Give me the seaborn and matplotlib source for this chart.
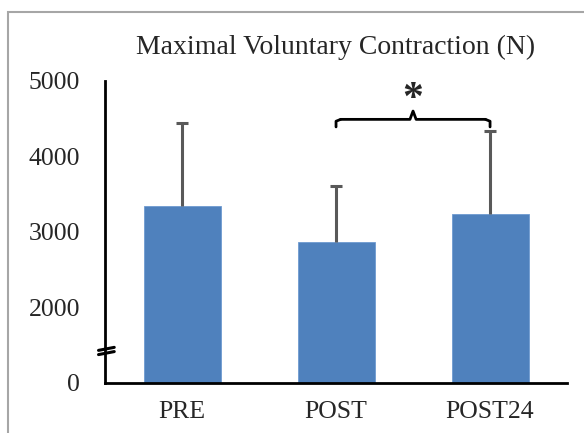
import numpy as np
import pandas as pd
import matplotlib
matplotlib.use('Agg')
import matplotlib.pyplot as plt
import seaborn as sns
from matplotlib.patches import Rectangle

# data (N)
phases = ['PRE', 'POST', 'POST24']
mvc_mean = [3344, 2860, 3234]
mvc_sd = [1092, 741, 1104]
ytick_labels = ['0', '2000', '3000', '4000', '5000']
ytick_values = [1000, 2000, 3000, 4000, 5000]
break_offset = 1000  # axis is broken between 0 and 2000
sig_pair = (1, 2)  # POST vs POST24

sns.set_style('white')
plt.rcParams['font.family'] = ['Liberation Serif', 'DejaVu Serif']

df = pd.DataFrame({'phase': phases,
                   'mvc': np.array(mvc_mean) - break_offset,
                   'sd': mvc_sd})

fig = plt.figure(figsize=(5.84, 4.33), dpi=100)
ax = fig.add_axes([0.1798, 0.1162, 0.7912, 0.6974])

sns.barplot(data=df, x='phase', y='mvc', color='#4F81BD', width=0.5,
            saturation=1, edgecolor='#6F9AD0', linewidth=0.6, ax=ax)
eb = ax.errorbar(range(len(phases)), df['mvc'],
                 yerr=[np.zeros(len(phases)), df['sd']],
                 fmt='none', ecolor='#595959', elinewidth=2.2, capsize=4, capthick=2.2,
                 zorder=3)
eb[1][0].set_visible(False)  # only the upper caps

ax.set_ylim(0, 4000)
ax.set_xlim(-0.5, 2.5)
ax.set_yticks(np.array(ytick_values) - break_offset)
ax.set_yticklabels(ytick_labels, fontsize=18.5)
ax.tick_params(axis='y', direction='out', length=7, width=2, color='black', pad=11)
ax.tick_params(axis='x', length=0, pad=13, labelsize=18.5)
ax.set_xlabel('')
ax.set_ylabel('')
for s in ['top', 'right']:
    ax.spines[s].set_visible(False)
for s in ['left', 'bottom']:
    ax.spines[s].set_linewidth(2)
    ax.spines[s].set_color('black')

ax.set_title('Maximal Voluntary Contraction (N)', fontsize=20, pad=19, x=0.5)

# axis break marks
for dy in (-0.007, 0.007):
    ax.plot([-0.014, 0.02], [0.105 + dy - 0.005, 0.105 + dy + 0.005],
            transform=ax.transAxes, color='black', lw=2.2, clip_on=False)

# significance bracket POST vs POST24
a, b = sig_pair
top = max(df['mvc'][a] + df['sd'][a], df['mvc'][b] + df['sd'][b])
yb = top + 150
mid = (a + b) / 2
ax.plot([a, a, a + 0.03], [yb - 100, yb - 25, yb], color='black', lw=2, clip_on=False)
ax.plot([a + 0.03, mid - 0.02, mid, mid + 0.02, b - 0.03],
        [yb, yb, yb + 110, yb, yb], color='black', lw=2, clip_on=False)
ax.plot([b - 0.03, b, b], [yb, yb - 25, yb - 100], color='black', lw=2, clip_on=False)
ax.text(mid, yb + 250, '*', ha='center', va='center', fontsize=30, fontweight='bold')

# chart-area frame
fig.patches.append(Rectangle((8 / 584, -0.1), 1.2, 1 - 12 / 433 + 0.1,
                             transform=fig.transFigure, fill=False,
                             edgecolor='#A6A6A6', linewidth=1.5))

fig.savefig('out.png', dpi=100)
